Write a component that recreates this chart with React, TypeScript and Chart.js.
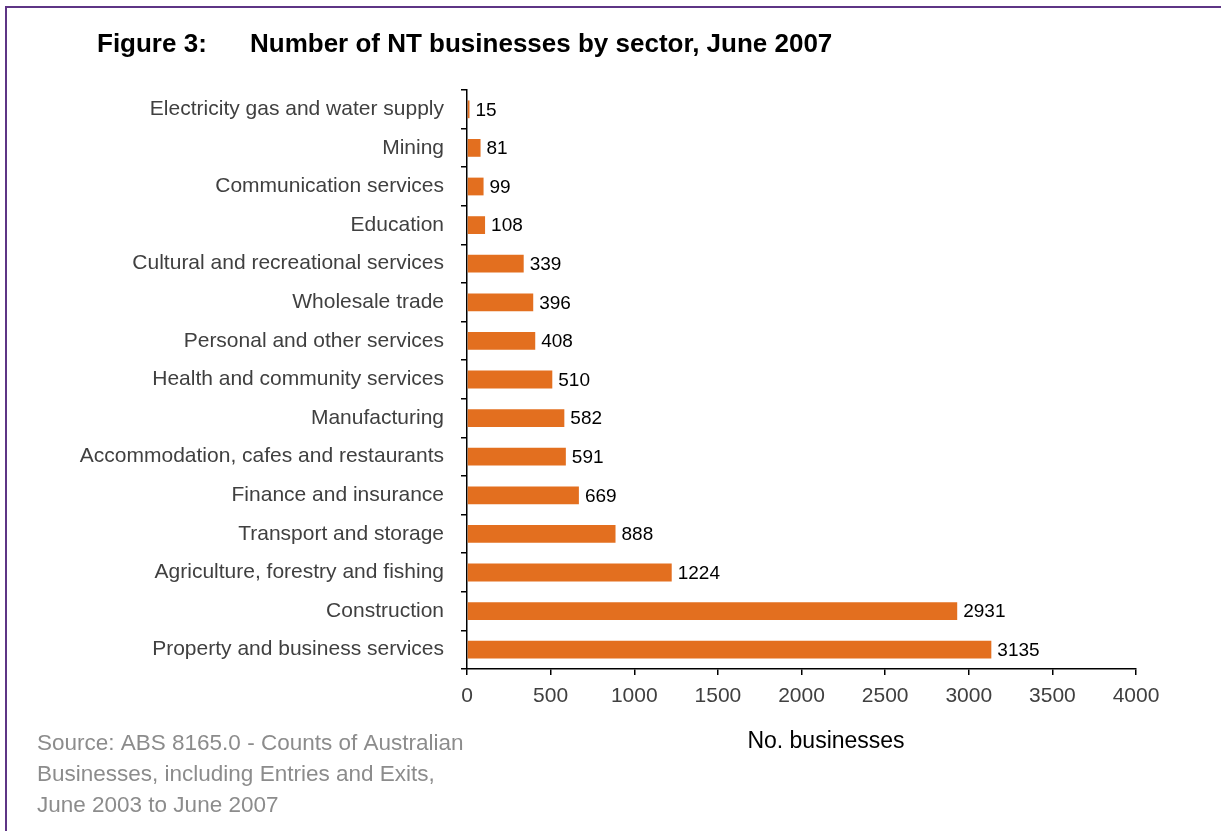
import React, { useEffect, useRef } from "react";
import { Chart, registerables } from "chart.js";

Chart.register(...registerables);

const sectors = [
  "Electricity gas and water supply",
  "Mining",
  "Communication services",
  "Education",
  "Cultural and recreational services",
  "Wholesale trade",
  "Personal and other services",
  "Health and community services",
  "Manufacturing",
  "Accommodation, cafes and restaurants",
  "Finance and insurance",
  "Transport and storage",
  "Agriculture, forestry and fishing",
  "Construction",
  "Property and business services",
];

const businesses = [15, 81, 99, 108, 339, 396, 408, 510, 582, 591, 669, 888, 1224, 2931, 3135];

const xTicks = [0, 500, 1000, 1500, 2000, 2500, 3000, 3500, 4000];

const figureLabel = "Figure 3:";
const figureTitle = "Number of NT businesses by sector, June 2007";
const xAxisTitle = "No. businesses";
const sourceLines = [
  "Source: ABS 8165.0 - Counts of Australian",
  "Businesses, including Entries and Exits,",
  "June 2003 to June 2007",
];

const FONT = "'Liberation Sans', Arial, sans-serif";
const W = 1221;
const H = 831;

const valueLabels = {
  id: "valueLabels",
  afterDatasetsDraw(chart: any) {
    const ctx = chart.ctx;
    const meta = chart.getDatasetMeta(0);
    ctx.save();
    ctx.font = `19px ${FONT}`;
    ctx.fillStyle = "#000";
    ctx.textBaseline = "middle";
    ctx.textAlign = "left";
    meta.data.forEach((bar: any, i: number) => {
      ctx.fillText(String(businesses[i]), bar.x + 6, bar.y + 1);
    });
    ctx.restore();
  },
};

const decorations = {
  id: "decorations",
  beforeDraw(chart: any) {
    const ctx = chart.ctx;
    ctx.save();
    ctx.fillStyle = "#fff";
    ctx.fillRect(0, 0, W, H);
    ctx.restore();
  },
  afterDraw(chart: any) {
    const ctx = chart.ctx;
    ctx.save();
    // frame
    ctx.strokeStyle = "#5e3585";
    ctx.lineWidth = 2;
    ctx.beginPath();
    ctx.moveTo(6, H);
    ctx.lineTo(6, 7);
    ctx.lineTo(W, 7);
    ctx.stroke();

    // title
    ctx.fillStyle = "#000";
    ctx.textBaseline = "middle";
    ctx.textAlign = "left";
    ctx.font = `bold 26px ${FONT}`;
    ctx.fillText(figureLabel, 97, 45);
    ctx.fillText(figureTitle, 250, 45);

    // x axis title
    ctx.font = `23px ${FONT}`;
    ctx.textAlign = "center";
    ctx.fillText(xAxisTitle, 826, 742);

    // source note
    ctx.fillStyle = "#8c8c8c";
    ctx.textAlign = "left";
    ctx.font = `22.5px ${FONT}`;
    sourceLines.forEach((line, i) => {
      ctx.fillText(line, 37, 744 + i * 31);
    });
    ctx.restore();
  },
};

export default function App() {
  const canvasRef = useRef<HTMLCanvasElement | null>(null);

  useEffect(() => {
    document.body.style.margin = "0";
    const canvas = canvasRef.current;
    if (!canvas) return;
    const chart = new Chart(canvas, {
      type: "bar",
      data: {
        labels: sectors,
        datasets: [
          {
            data: businesses,
            backgroundColor: "#e36f1f",
            borderWidth: 0,
            barPercentage: 0.46,
            categoryPercentage: 1,
          },
        ],
      },
      options: {
        indexAxis: "y",
        responsive: false,
        animation: false,
        devicePixelRatio: 1,
        layout: { padding: { top: 90, right: 85, left: 0, bottom: 0 } },
        plugins: {
          legend: { display: false },
          tooltip: { enabled: false },
          title: { display: false },
        },
        scales: {
          y: {
            type: "category",
            offset: true,
            afterFit(scale: any) {
              scale.width = 467;
            },
            grid: {
              display: true,
              drawOnChartArea: false,
              drawTicks: true,
              tickLength: 6,
              color: "#000",
              lineWidth: 1.5,
              offset: true,
            },
            border: { display: true, color: "#000", width: 1.5 },
            ticks: {
              color: "#404040",
              font: { family: FONT, size: 21 },
              padding: 17,
              autoSkip: false,
            },
          },
          x: {
            type: "linear",
            min: 0,
            max: 4000,
            afterFit(scale: any) {
              scale.height = H - 669;
            },
            afterBuildTicks(scale: any) {
              scale.ticks = xTicks.map((v) => ({ value: v }));
            },
            grid: {
              display: true,
              drawOnChartArea: false,
              drawTicks: true,
              tickLength: 6,
              color: "#000",
              lineWidth: 1.5,
            },
            border: { display: true, color: "#000", width: 1.5 },
            ticks: {
              color: "#404040",
              font: { family: FONT, size: 21 },
              padding: 9,
              maxRotation: 0,
              callback: (v: any) => String(v),
            },
          },
        },
      },
      plugins: [decorations, valueLabels],
    });
    return () => chart.destroy();
  }, []);

  return (
    <div style={{ position: "absolute", left: 0, top: 0, width: W, height: H }}>
      <canvas ref={canvasRef} width={W} height={H} style={{ width: W, height: H, display: "block" }} />
    </div>
  );
}
